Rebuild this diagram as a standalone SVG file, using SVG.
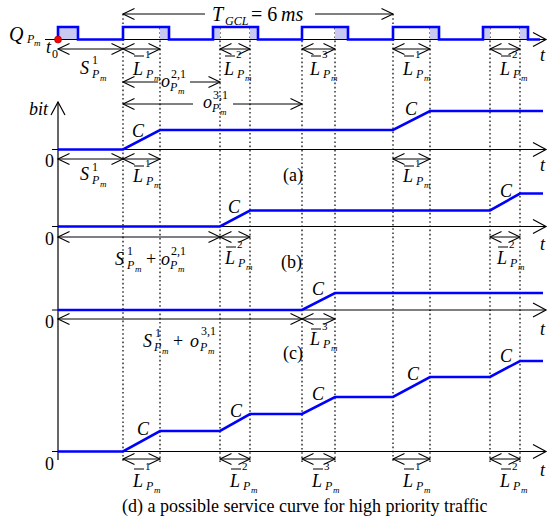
<svg xmlns="http://www.w3.org/2000/svg" width="548" height="525" viewBox="0 0 548 525">
<defs>
<style>
.mi{font-family:"Liberation Serif","Times New Roman",serif;font-style:italic;fill:#000}
.mu{font-family:"Liberation Serif","Times New Roman",serif;fill:#000}
.f18{font-size:18px}.f20{font-size:20px}.f12{font-size:12px}.f11{font-size:11px}.f9{font-size:9px}
.dot{stroke:#222;stroke-width:1.4;stroke-dasharray:1.6 2.6;fill:none}
.ax{stroke:#000;stroke-width:1.2;fill:none}
.dim{stroke:#000;stroke-width:1;fill:none}
.blue{stroke:#0000ff;stroke-width:2.6;fill:none;stroke-linejoin:miter}
.shade{fill:#c8c8f0}
.bar{stroke:#000;stroke-width:1}
</style>
<marker id="sa" viewBox="0 -7 13 14" refX="11.5" refY="0" markerWidth="13" markerHeight="14" markerUnits="userSpaceOnUse" orient="auto-start-reverse" overflow="visible">
<path d="M0,-5.5 L11.5,0 L0,5.5" fill="none" stroke="#000" stroke-width="1.1"/>
</marker>
<marker id="ba" viewBox="0 -8 14 16" refX="13" refY="0" markerWidth="14" markerHeight="16" markerUnits="userSpaceOnUse" orient="auto-start-reverse" overflow="visible">
<path d="M0,-7 L13,0 L0,7" fill="none" stroke="#000" stroke-width="1.2"/>
</marker>
</defs>
<rect width="548" height="525" fill="#fff"/>

<g id="guides">
<line class="dot" x1="123" y1="14" x2="123" y2="462"/>
<line class="dot" x1="160" y1="28" x2="160" y2="462"/>
<line class="dot" x1="220" y1="28" x2="220" y2="462"/>
<line class="dot" x1="250" y1="28" x2="250" y2="462"/>
<line class="dot" x1="302" y1="28" x2="302" y2="462"/>
<line class="dot" x1="335" y1="28" x2="335" y2="462"/>
<line class="dot" x1="393" y1="14" x2="393" y2="462"/>
<line class="dot" x1="430" y1="28" x2="430" y2="462"/>
<line class="dot" x1="490" y1="28" x2="490" y2="462"/>
<line class="dot" x1="520" y1="28" x2="520" y2="462"/>
</g>

<g id="pulse-train">
<rect class="shade" x="58" y="27" width="20" height="12.5"/>
<rect class="shade" x="160" y="27" width="9" height="12.5"/>
<rect class="shade" x="213" y="27" width="7" height="12.5"/>
<rect class="shade" x="250" y="27" width="8" height="12.5"/>
<rect class="shade" x="335" y="27" width="13" height="12.5"/>
<rect class="shade" x="430" y="27" width="9" height="12.5"/>
<rect class="shade" x="483" y="27" width="7" height="12.5"/>
<rect class="shade" x="520" y="27" width="8" height="12.5"/>
<line class="ax" x1="45" y1="39.5" x2="546" y2="39.5" marker-end="url(#ba)"/>
<path class="blue" d="M58,39.5 V27 H78 V39.5 H123 V27 H169 V39.5 H213 V27 H258 V39.5 H302 V27 H348 V39.5 H393 V27 H439 V39.5 H483 V27 H528 V39.5 H540"/>
<circle cx="58" cy="39.5" r="3.5" fill="#ff0000" stroke="#880000" stroke-width="0.6"/>
<text class="mi f20" x="9" y="41">Q</text><text class="mi f12" x="27" y="43">P</text><text class="mi f9" x="34" y="46">m</text>
<text class="mi f18" x="46" y="53">t</text><text class="mu f12" x="52" y="58">0</text>
<text class="mi f20" x="212" y="21">T</text><text class="mi f12" x="225" y="25">GCL</text>
<text class="mu f20" x="251" y="21">= 6</text><text class="mi f20" x="281" y="21">ms</text>
<text class="mi f18" x="540" y="61">t</text>
</g>

<g id="axes">
<line class="ax" x1="58" y1="460" x2="58" y2="102" marker-end="url(#ba)"/>
<line class="ax" x1="52" y1="149.5" x2="546" y2="149.5" marker-end="url(#ba)"/>
<line class="ax" x1="52" y1="226.5" x2="546" y2="226.5" marker-end="url(#ba)"/>
<line class="ax" x1="52" y1="310" x2="546" y2="310" marker-end="url(#ba)"/>
<line class="ax" x1="52" y1="451.5" x2="546" y2="451.5" marker-end="url(#ba)"/>
<text class="mi f18" x="29" y="115">bit</text>
</g>

<g id="curves">
<path class="blue" d="M58,149.5 L123,149.5 L160,130 L393,130 L430,111 L543,111"/>
<path class="blue" d="M58,226.5 L220,226.5 L250,210.5 L490,210.5 L520,193.5 L543,193.5"/>
<path class="blue" d="M58,310 L302,310 L335,293 L543,293"/>
<path class="blue" d="M58,451.5 L123,451.5 L160,431 L220,431 L250,414 L302,414 L335,397 L393,397 L430,377 L490,377 L520,361 L543,361"/>
</g>

<g id="dimension-arrows">
<line class="dim" x1="205" y1="14" x2="123" y2="14" marker-end="url(#sa)"/>
<line class="dim" x1="315" y1="14" x2="393" y2="14" marker-end="url(#sa)"/>
<line class="dim" x1="58" y1="49" x2="123" y2="49" marker-start="url(#sa)" marker-end="url(#sa)"/>
<line class="dim" x1="123" y1="49" x2="160" y2="49" marker-start="url(#sa)" marker-end="url(#sa)"/>
<line class="dim" x1="220" y1="49" x2="250" y2="49" marker-start="url(#sa)" marker-end="url(#sa)"/>
<line class="dim" x1="302" y1="49" x2="335" y2="49" marker-start="url(#sa)" marker-end="url(#sa)"/>
<line class="dim" x1="393" y1="49" x2="430" y2="49" marker-start="url(#sa)" marker-end="url(#sa)"/>
<line class="dim" x1="490" y1="49" x2="520" y2="49" marker-start="url(#sa)" marker-end="url(#sa)"/>
<line class="dim" x1="158" y1="82" x2="123" y2="82" marker-end="url(#sa)"/>
<line class="dim" x1="190" y1="82" x2="220" y2="82" marker-end="url(#sa)"/>
<line class="dim" x1="193" y1="104" x2="123" y2="104" marker-end="url(#sa)"/>
<line class="dim" x1="233" y1="104" x2="302" y2="104" marker-end="url(#sa)"/>
<line class="dim" x1="58" y1="159" x2="123" y2="159" marker-start="url(#sa)" marker-end="url(#sa)"/>
<line class="dim" x1="123" y1="159" x2="160" y2="159" marker-start="url(#sa)" marker-end="url(#sa)"/>
<line class="dim" x1="393" y1="159" x2="430" y2="159" marker-start="url(#sa)" marker-end="url(#sa)"/>
<line class="dim" x1="58" y1="237" x2="220" y2="237" marker-start="url(#sa)" marker-end="url(#sa)"/>
<line class="dim" x1="220" y1="237" x2="250" y2="237" marker-start="url(#sa)" marker-end="url(#sa)"/>
<line class="dim" x1="490" y1="237" x2="520" y2="237" marker-start="url(#sa)" marker-end="url(#sa)"/>
<line class="dim" x1="58" y1="319" x2="302" y2="319" marker-start="url(#sa)" marker-end="url(#sa)"/>
<line class="dim" x1="302" y1="319" x2="335" y2="319" marker-start="url(#sa)" marker-end="url(#sa)"/>
<line class="dim" x1="123" y1="459" x2="160" y2="459" marker-start="url(#sa)" marker-end="url(#sa)"/>
<line class="dim" x1="220" y1="459" x2="250" y2="459" marker-start="url(#sa)" marker-end="url(#sa)"/>
<line class="dim" x1="302" y1="459" x2="335" y2="459" marker-start="url(#sa)" marker-end="url(#sa)"/>
<line class="dim" x1="393" y1="459" x2="430" y2="459" marker-start="url(#sa)" marker-end="url(#sa)"/>
<line class="dim" x1="490" y1="459" x2="520" y2="459" marker-start="url(#sa)" marker-end="url(#sa)"/>
</g>

<g id="top-labels">
<text class="mi f18" x="80" y="74">S</text><text class="mu f12" x="92" y="64">1</text><text class="mi f12" x="92" y="78">P</text><text class="mi f9" x="100" y="81">m</text>
<g><line class="bar" x1="134" y1="56" x2="144" y2="56"/><text class="mi f18" x="133" y="75">L</text><text class="mu f11" x="145" y="58">1</text><text class="mi f12" x="146" y="78">P</text><text class="mi f9" x="154" y="81">m</text></g>
<g><line class="bar" x1="225" y1="56" x2="235" y2="56"/><text class="mi f18" x="224" y="75">L</text><text class="mu f11" x="236" y="58">2</text><text class="mi f12" x="237" y="78">P</text><text class="mi f9" x="245" y="81">m</text></g>
<g><line class="bar" x1="311" y1="56" x2="321" y2="56"/><text class="mi f18" x="310" y="75">L</text><text class="mu f11" x="322" y="58">3</text><text class="mi f12" x="323" y="78">P</text><text class="mi f9" x="331" y="81">m</text></g>
<g><line class="bar" x1="404" y1="56" x2="414" y2="56"/><text class="mi f18" x="403" y="75">L</text><text class="mu f11" x="415" y="58">1</text><text class="mi f12" x="416" y="78">P</text><text class="mi f9" x="424" y="81">m</text></g>
<g><line class="bar" x1="501" y1="56" x2="511" y2="56"/><text class="mi f18" x="500" y="75">L</text><text class="mu f11" x="512" y="58">2</text><text class="mi f12" x="513" y="78">P</text><text class="mi f9" x="521" y="81">m</text></g>
<text class="mi f18" x="161" y="87">o</text><text class="mu f12" x="171" y="78">2,1</text><text class="mi f12" x="170" y="91">P</text><text class="mi f9" x="178" y="94">m</text>
<text class="mi f18" x="203" y="108">o</text><text class="mu f12" x="213" y="99">3,1</text><text class="mi f12" x="212" y="112">P</text><text class="mi f9" x="220" y="115">m</text>
</g>

<g id="panel-a">
<text class="mu f18" x="45" y="167">0</text>
<text class="mi f18" x="540" y="171">t</text>
<text class="mu f18" x="283" y="181">(a)</text>
<text class="mi f18" x="132" y="137">C</text>
<text class="mi f18" x="405" y="115">C</text>
<text class="mi f18" x="80" y="180">S</text><text class="mu f12" x="92" y="171">1</text><text class="mi f12" x="92" y="184">P</text><text class="mi f9" x="100" y="187">m</text>
<g><line class="bar" x1="134" y1="166" x2="144" y2="166"/><text class="mi f18" x="133" y="182">L</text><text class="mu f11" x="145" y="167">1</text><text class="mi f12" x="146" y="185">P</text><text class="mi f9" x="154" y="188">m</text></g>
<g><line class="bar" x1="404" y1="166" x2="414" y2="166"/><text class="mi f18" x="403" y="182">L</text><text class="mu f11" x="415" y="167">1</text><text class="mi f12" x="416" y="185">P</text><text class="mi f9" x="424" y="188">m</text></g>
</g>

<g id="panel-b">
<text class="mu f18" x="45" y="245">0</text>
<text class="mi f18" x="540" y="250">t</text>
<text class="mu f18" x="281" y="268">(b)</text>
<text class="mi f18" x="228" y="213">C</text>
<text class="mi f18" x="500" y="197">C</text>
<text class="mi f18" x="115" y="265">S</text><text class="mu f12" x="127" y="255">1</text><text class="mi f12" x="127" y="269">P</text><text class="mi f9" x="135" y="272">m</text>
<text class="mu f18" x="146" y="265">+</text>
<text class="mi f18" x="161" y="265">o</text><text class="mu f12" x="171" y="255">2,1</text><text class="mi f12" x="170" y="269">P</text><text class="mi f9" x="178" y="272">m</text>
<g><line class="bar" x1="226" y1="247" x2="236" y2="247"/><text class="mi f18" x="225" y="264">L</text><text class="mu f11" x="237" y="248">2</text><text class="mi f12" x="238" y="267">P</text><text class="mi f9" x="246" y="270">m</text></g>
<g><line class="bar" x1="498" y1="247" x2="508" y2="247"/><text class="mi f18" x="497" y="264">L</text><text class="mu f11" x="509" y="248">2</text><text class="mi f12" x="510" y="267">P</text><text class="mi f9" x="518" y="270">m</text></g>
</g>

<g id="panel-c">
<text class="mu f18" x="45" y="328">0</text>
<text class="mi f18" x="540" y="335">t</text>
<text class="mu f18" x="283" y="359">(c)</text>
<text class="mi f18" x="312" y="295">C</text>
<text class="mi f18" x="143" y="347">S</text><text class="mu f12" x="155" y="337">1</text><text class="mi f12" x="154" y="351">P</text><text class="mi f9" x="162" y="354">m</text>
<text class="mu f18" x="173" y="347">+</text>
<text class="mi f18" x="190" y="347">o</text><text class="mu f12" x="201" y="335">3,1</text><text class="mi f12" x="200" y="351">P</text><text class="mi f9" x="208" y="354">m</text>
<g><line class="bar" x1="311" y1="329" x2="321" y2="329"/><text class="mi f18" x="310" y="345">L</text><text class="mu f11" x="322" y="330">3</text><text class="mi f12" x="323" y="348">P</text><text class="mi f9" x="331" y="351">m</text></g>
</g>

<g id="panel-d">
<text class="mu f18" x="45" y="470">0</text>
<text class="mi f18" x="540" y="476">t</text>
<text class="mi f18" x="137" y="435">C</text>
<text class="mi f18" x="230" y="417">C</text>
<text class="mi f18" x="312" y="400">C</text>
<text class="mi f18" x="407" y="380">C</text>
<text class="mi f18" x="500" y="362">C</text>
<g><line class="bar" x1="134" y1="469" x2="144" y2="469"/><text class="mi f18" x="133" y="487">L</text><text class="mu f11" x="145" y="470">1</text><text class="mi f12" x="146" y="490">P</text><text class="mi f9" x="154" y="493">m</text></g>
<g><line class="bar" x1="231" y1="469" x2="241" y2="469"/><text class="mi f18" x="230" y="487">L</text><text class="mu f11" x="242" y="470">2</text><text class="mi f12" x="243" y="490">P</text><text class="mi f9" x="251" y="493">m</text></g>
<g><line class="bar" x1="313" y1="469" x2="323" y2="469"/><text class="mi f18" x="312" y="487">L</text><text class="mu f11" x="324" y="470">3</text><text class="mi f12" x="325" y="490">P</text><text class="mi f9" x="333" y="493">m</text></g>
<g><line class="bar" x1="404" y1="469" x2="414" y2="469"/><text class="mi f18" x="403" y="487">L</text><text class="mu f11" x="415" y="470">1</text><text class="mi f12" x="416" y="490">P</text><text class="mi f9" x="424" y="493">m</text></g>
<g><line class="bar" x1="501" y1="469" x2="511" y2="469"/><text class="mi f18" x="500" y="487">L</text><text class="mu f11" x="512" y="470">2</text><text class="mi f12" x="513" y="490">P</text><text class="mi f9" x="521" y="493">m</text></g>
<text class="mu f18" x="122" y="512">(d) a possible service curve for high priority traffic</text>
</g>
</svg>
